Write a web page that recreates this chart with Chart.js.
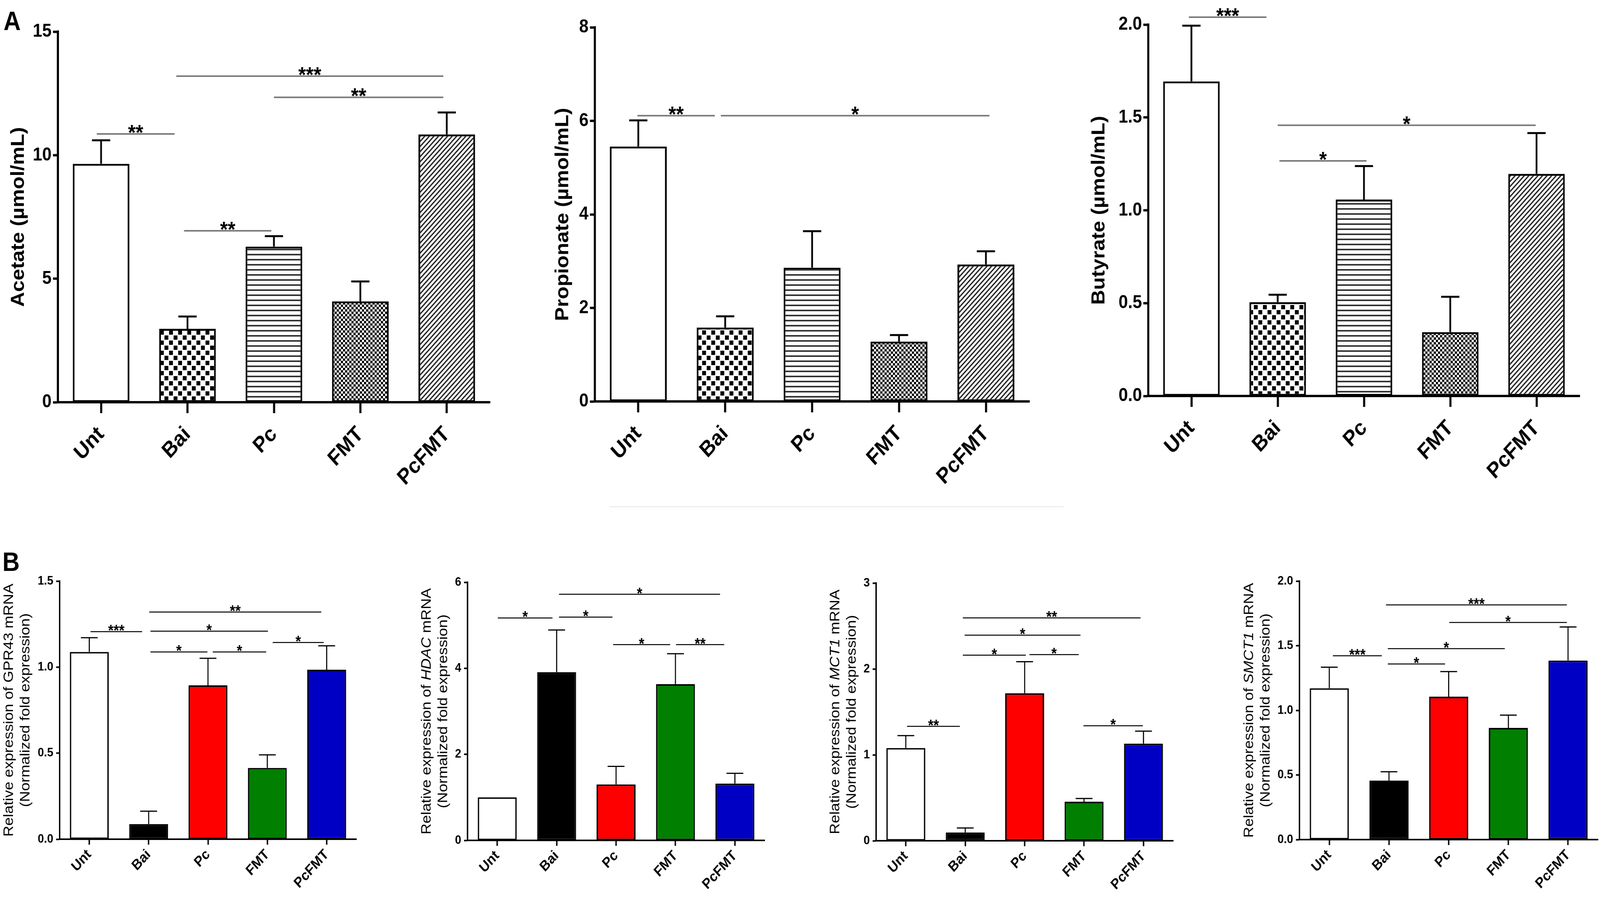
<!DOCTYPE html>
<html>
<head>
<meta charset="utf-8">
<script src="https://cdn.jsdelivr.net/npm/chart.js@4.4.1/dist/chart.umd.min.js"></script>
<style>
html, body { margin: 0; padding: 0; background: #fff; overflow: hidden; }
body { font-family: "Liberation Sans", Arial, sans-serif; }
#page { position: absolute; left: 0; top: 0; width: 4562px; height: 2297px; transform-origin: 0 0; background: #fff; }
canvas { position: absolute; }
.letter { position: absolute; font-weight: bold; font-size: 68px; line-height: 1; color: #000; }
.faint { position: absolute; background: #eeeeee; }
</style>
</head>
<body>
<div id="page">
<div class="letter" style="left:10px;top:19px">A</div>
<div class="letter" style="left:7px;top:1404px">B</div>
<div class="faint" style="left:1737px;top:1296px;width:1296px;height:3px"></div>
<canvas id="acetate"></canvas>
<canvas id="propionate"></canvas>
<canvas id="butyrate"></canvas>
<canvas id="gpr43"></canvas>
<canvas id="hdac"></canvas>
<canvas id="mct1"></canvas>
<canvas id="smct1"></canvas>
</div>
<script>
// groups, same order in every panel
const groups = ["Unt", "Bai", "Pc", "FMT", "PcFMT"];

// --- A: short chain fatty acids (mean, SEM) ---
const acetateMean = [9.65, 2.97, 6.30, 4.08, 10.84];
const acetateSem  = [0.95, 0.50, 0.42, 0.81, 0.89];
const propionateMean = [5.45, 1.58, 2.86, 1.28, 2.93];
const propionateSem  = [0.56, 0.24, 0.78, 0.14, 0.28];
const butyrateMean = [1.694, 0.505, 1.058, 0.344, 1.196];
const butyrateSem  = [0.30, 0.04, 0.18, 0.19, 0.22];

// --- B: relative mRNA expression (mean, SEM) ---
const gpr43Mean = [1.088, 0.088, 0.894, 0.414, 0.985];
const gpr43Sem  = [0.083, 0.075, 0.157, 0.076, 0.139];
const hdacMean = [1.00, 3.91, 1.30, 3.63, 1.32];
const hdacSem  = [0, 0.98, 0.42, 0.71, 0.24];
const mct1Mean = [1.079, 0.097, 1.717, 0.454, 1.131];
const mct1Sem  = [0.145, 0.052, 0.367, 0.038, 0.145];
const smct1Mean = [1.171, 0.456, 1.106, 0.864, 1.385];
const smct1Sem  = [0.163, 0.069, 0.194, 0.099, 0.26];

// y axis ranges [min, max, step]
const acetateAxis = [0, 15, 5];
const propionateAxis = [0, 8, 2];
const butyrateAxis = [0, 2, 0.5];
const gpr43Axis = [0, 1.5, 0.5];
const hdacAxis = [0, 6, 2];
const mct1Axis = [0, 3, 1];
const smct1Axis = [0, 2, 0.5];

// significance brackets: [from group index, to group index, y value, label]
const acetateSig = [[-0.05, 0.85, 10.86, "**"], [0.87, 3.96, 13.2, "***"], [2.0, 3.96, 12.34, "**"], [0.96, 1.97, 6.94, "**"]];
const propionateSig = [[-0.01, 0.88, 6.11, "**"], [0.95, 4.04, 6.11, "*"]];
const butyrateSig = [[-0.03, 0.87, 2.04, "***"], [1.02, 2.03, 1.266, "*"], [1.0, 3.99, 1.458, "*"]];
const gpr43Sig = [[0.02, 0.89, 1.206, "***"], [1.01, 3.91, 1.32, "**"], [1.03, 3.01, 1.209, "*"],
                  [1.03, 1.99, 1.088, "*"], [2.08, 2.98, 1.088, "*"], [3.09, 3.95, 1.143, "*"]];
const hdacSig = [[0.01, 0.93, 5.17, "*"], [1.04, 1.94, 5.19, "*"], [1.04, 3.75, 5.72, "*"],
                 [1.95, 2.91, 4.55, "*"], [3.01, 3.82, 4.55, "**"]];
const mct1Sig = [[0.02, 0.91, 1.332, "**"], [0.96, 3.95, 2.594, "**"], [0.99, 2.94, 2.393, "*"],
                 [0.96, 2.02, 2.16, "*"], [2.08, 2.91, 2.167, "*"], [2.99, 3.99, 1.339, "*"]];
const smct1Sig = [[0.06, 0.88, 1.422, "***"], [0.95, 3.98, 1.816, "***"], [2.01, 3.98, 1.68, "*"],
                  [0.98, 2.94, 1.477, "*"], [0.98, 1.94, 1.359, "*"]];

// axis titles (segments, "it" = italic)
const acetateTitle = [[{ t: "Acetate (µmol/mL)" }]];
const propionateTitle = [[{ t: "Propionate (µmol/mL)" }]];
const butyrateTitle = [[{ t: "Butyrate (µmol/mL)" }]];
const foldLine = [{ t: "(Normalized fold expression)" }];
const gpr43Title = [[{ t: "Relative expression of GPR43 mRNA" }], foldLine];
const hdacTitle = [[{ t: "Relative expression of " }, { t: "HDAC", it: true }, { t: " mRNA" }], foldLine];
const mct1Title = [[{ t: "Relative expression of " }, { t: "MCT1", it: true }, { t: " mRNA" }], foldLine];
const smct1Title = [[{ t: "Relative expression of " }, { t: "SMCT1", it: true }, { t: " mRNA" }], foldLine];

const FONT = '"Liberation Sans", Arial, sans-serif';
Chart.defaults.font.family = FONT;
Chart.defaults.color = "#000";

// the figure is laid out at 4562x2297 and stretched to whatever the window really is
const page = document.getElementById("page");
page.style.transform = "scale(" + (window.innerWidth / 4562) + "," + (window.innerHeight / 2297) + ")";

// fill patterns of panel A
function pattern(kind) {
    const c = document.createElement("canvas");
    const g = c.getContext("2d");
    if (kind === "checker") {
        c.width = c.height = 26;
        g.fillStyle = "#fff"; g.fillRect(0, 0, 26, 26);
        g.fillStyle = "#000"; g.fillRect(1, 1, 11, 11); g.fillRect(14, 14, 11, 11);
    } else if (kind === "hlines") {
        c.width = 10; c.height = 13;
        g.fillStyle = "#fff"; g.fillRect(0, 0, 10, 13);
        g.fillStyle = "#333"; g.fillRect(0, 0, 10, 4);
    } else if (kind === "fine") {
        c.width = c.height = 12;
        g.fillStyle = "#fff"; g.fillRect(0, 0, 12, 12);
        g.fillStyle = "#000"; g.fillRect(0, 0, 6, 6); g.fillRect(6, 6, 6, 6);
    } else if (kind === "diag") {
        c.width = c.height = 13;
        g.fillStyle = "#fff"; g.fillRect(0, 0, 13, 13);
        g.strokeStyle = "#222"; g.lineWidth = 3.5;
        g.beginPath();
        g.moveTo(0, 13); g.lineTo(13, 0);
        g.moveTo(-2, 2); g.lineTo(2, -2);
        g.moveTo(11, 15); g.lineTo(15, 11);
        g.stroke();
    }
    return g.createPattern(c, "repeat");
}
const topFills = ["#ffffff", pattern("checker"), pattern("hlines"), pattern("fine"), pattern("diag")];
const botFills = ["#ffffff", "#000000", "#ff0000", "#007f00", "#0000c4"];

const topStyle = { axisW: 6, barW: 5, errW: 5, cap: 26, sigW: 4, sigColor: "#7a7a7a", star: 56,
    tickFont: 48, catFont: 56, titleFont: 53, titleBold: true, titleGap: 0, yTick: 14, yPad: 4, xTick: 28, xPad: 22 };
const botStyle = { axisW: 4, barW: 4, errW: 3, cap: 24, sigW: 2.5, sigColor: "#000", star: 40,
    tickFont: 32, catFont: 37, titleFont: 39, titleBold: false, titleGap: 47, yTick: 10, yPad: 8, xTick: 14, xPad: 4 };

function makeChart(id, mean, sem, axis, sig, title, fills, s, box) {
    const canvas = document.getElementById(id);
    canvas.width = box.w; canvas.height = box.h;
    canvas.style.left = box.left + "px"; canvas.style.top = box.top + "px";
    canvas.style.width = box.w + "px"; canvas.style.height = box.h + "px";
    const dec = axis[2] < 1 ? 1 : 0;

    const extras = {
        id: "extras",
        afterDraw(chart) {
            const ctx = chart.ctx;
            const xs = chart.scales.x, ys = chart.scales.y;
            const meta = chart.getDatasetMeta(0);
            ctx.save();
            // error bars (upper SEM)
            ctx.strokeStyle = "#000"; ctx.lineWidth = s.errW; ctx.lineCap = "butt";
            sem.forEach((e, i) => {
                if (!e) return;
                const bar = meta.data[i];
                const top = ys.getPixelForValue(mean[i] + e);
                ctx.beginPath();
                ctx.moveTo(bar.x, bar.y); ctx.lineTo(bar.x, top);
                ctx.moveTo(bar.x - s.cap, top); ctx.lineTo(bar.x + s.cap, top);
                ctx.stroke();
            });
            // significance lines
            ctx.strokeStyle = s.sigColor; ctx.lineWidth = s.sigW;
            ctx.fillStyle = "#000";
            ctx.font = "bold " + s.star + "px " + FONT;
            ctx.textAlign = "center"; ctx.textBaseline = "alphabetic";
            sig.forEach(([a, b, v, lab]) => {
                const x1 = xs.getPixelForValue(a), x2 = xs.getPixelForValue(b);
                const y = ys.getPixelForValue(v);
                ctx.beginPath(); ctx.moveTo(x1, y); ctx.lineTo(x2, y); ctx.stroke();
                ctx.fillText(lab, (x1 + x2) / 2, y + s.star * 0.27);
            });
            // y title
            const cy = (chart.chartArea.top + chart.chartArea.bottom) / 2;
            ctx.translate(box.titleX - box.left, cy);
            ctx.rotate(-Math.PI / 2);
            ctx.textBaseline = "middle"; ctx.textAlign = "left";
            title.forEach((segs, li) => {
                const fontOf = seg => (seg.it ? "italic " : "") + (s.titleBold ? "bold " : "") + s.titleFont + "px " + FONT;
                let total = 0;
                segs.forEach(seg => { ctx.font = fontOf(seg); total += ctx.measureText(seg.t).width; });
                let x = -total / 2;
                segs.forEach(seg => {
                    ctx.font = fontOf(seg);
                    ctx.fillText(seg.t, x, li * s.titleGap);
                    x += ctx.measureText(seg.t).width;
                });
            });
            ctx.restore();
        }
    };

    return new Chart(canvas, {
        type: "bar",
        data: {
            labels: groups,
            datasets: [{
                data: mean, backgroundColor: fills, borderColor: "#000", borderWidth: s.barW,
                borderSkipped: false, barPercentage: 0.655, categoryPercentage: 1
            }]
        },
        options: {
            responsive: false, animation: false, devicePixelRatio: 1,
            layout: { padding: { left: 0, top: box.padTop, right: box.padRight, bottom: 0 } },
            plugins: { legend: { display: false }, tooltip: { enabled: false } },
            scales: {
                x: {
                    offset: true,
                    grid: { display: true, drawOnChartArea: false, drawTicks: true, offset: false,
                            tickLength: s.xTick, tickWidth: s.axisW, tickColor: "#000", color: "#000" },
                    border: { display: true, color: "#000", width: s.axisW },
                    ticks: { autoSkip: false, minRotation: 45, maxRotation: 45, padding: s.xPad, color: "#000",
                             font: { size: s.catFont, weight: "bold", family: FONT } },
                    afterFit: sc => { sc.height = box.xH; }
                },
                y: {
                    min: axis[0], max: axis[1],
                    grid: { display: true, drawOnChartArea: false, drawTicks: true,
                            tickLength: s.yTick, tickWidth: s.axisW, tickColor: "#000", color: "#000" },
                    border: { display: true, color: "#000", width: s.axisW },
                    ticks: { stepSize: axis[2], padding: s.yPad, color: "#000",
                             font: { size: s.tickFont, weight: "bold", family: FONT },
                             callback: v => Number(v).toFixed(dec) },
                    afterFit: sc => { sc.width = box.yW; }
                }
            }
        },
        plugins: [extras]
    });
}

// canvas placement of each panel (figure coordinates, 4562x2297)
makeChart("acetate", acetateMean, acetateSem, acetateAxis, acetateSig, acetateTitle, topFills, topStyle,
    { left: 0, top: 0, w: 1440, h: 1270, yW: 165, padTop: 81, padRight: 43, xH: 240, titleX: 53 });
makeChart("propionate", propionateMean, propionateSem, propionateAxis, propionateSig, propionateTitle, topFills, topStyle,
    { left: 1520, top: 0, w: 1460, h: 1270, yW: 176, padTop: 70, padRight: 45, xH: 242, titleX: 1605 });
makeChart("butyrate", butyrateMean, butyrateSem, butyrateAxis, butyrateSig, butyrateTitle, topFills, topStyle,
    { left: 3080, top: 0, w: 1470, h: 1270, yW: 194, padTop: 63, padRight: 46, xH: 256, titleX: 3134 });
makeChart("gpr43", gpr43Mean, gpr43Sem, gpr43Axis, gpr43Sig, gpr43Title, botFills, botStyle,
    { left: 0, top: 1400, w: 1100, h: 897, yW: 170, padTop: 88, padRight: 84, xH: 148, titleX: 26 });
makeChart("hdac", hdacMean, hdacSem, hdacAxis, hdacSig, hdacTitle, botFills, botStyle,
    { left: 1150, top: 1400, w: 1100, h: 897, yW: 183, padTop: 91, padRight: 70, xH: 145, titleX: 1217 });
makeChart("mct1", mct1Mean, mct1Sem, mct1Axis, mct1Sig, mct1Title, botFills, botStyle,
    { left: 2300, top: 1400, w: 1100, h: 897, yW: 198, padTop: 93, padRight: 55, xH: 144, titleX: 2382 });
makeChart("smct1", smct1Mean, smct1Sem, smct1Axis, smct1Sig, smct1Title, botFills, botStyle,
    { left: 3420, top: 1400, w: 1142, h: 897, yW: 285, padTop: 88, padRight: 6, xH: 147, titleX: 3562 });
</script>
</body>
</html>
